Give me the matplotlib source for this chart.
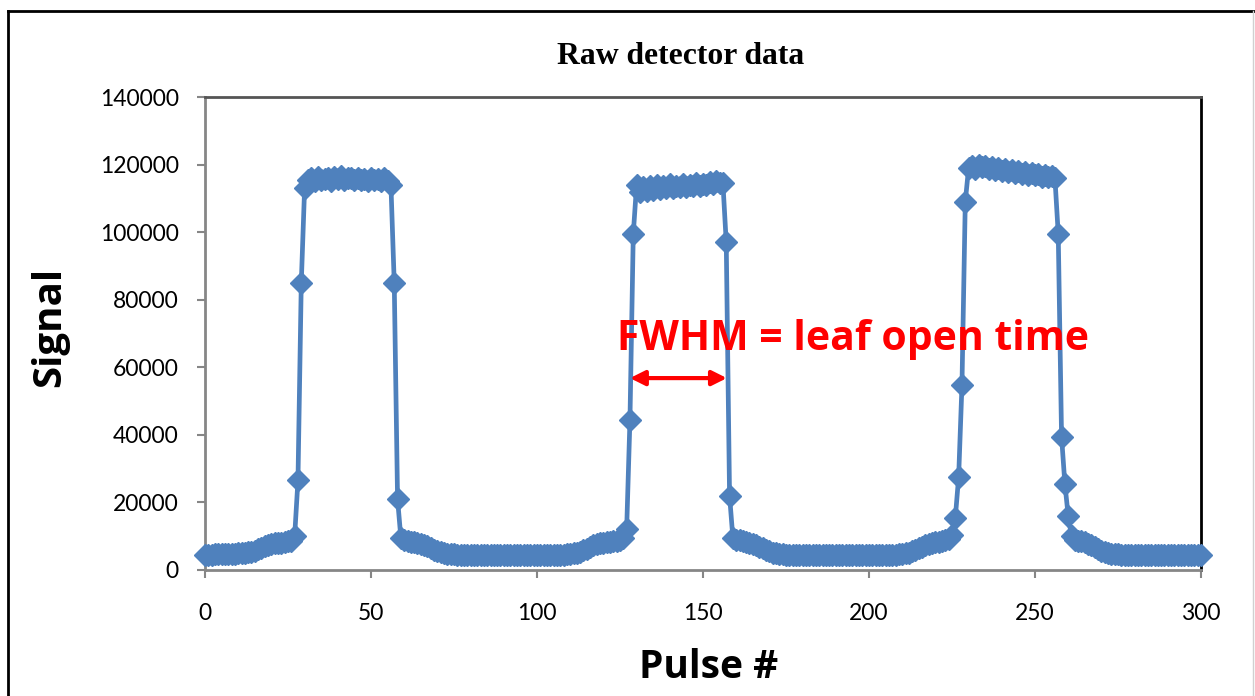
import numpy as np
import matplotlib
matplotlib.use("Agg")
import matplotlib.pyplot as plt
from matplotlib.lines import Line2D

# signal, one value per pulse (0..300)
base_1 = [4500, 4500, 4500, 4600, 4600, 4600, 4700, 4700, 4800, 4800,
          4900, 5000, 5100, 5200, 5400, 5700, 6100, 6600, 7100, 7500,
          7700, 7900, 8000, 8100, 8300, 8500, 8700]
peak_1 = [10000, 26500, 85000, 113000,
          115500, 116000, 115000, 116200, 115300, 115800, 116000, 115200,
          116300, 115600, 116500, 115400, 115900, 116100, 115300, 116000,
          115500, 115800, 115100, 116000, 115400, 115700, 115200, 115900,
          115000,
          114000, 85000, 21000, 9500]
base_2 = [9000, 8700, 8400, 8200, 8000, 7700, 7400, 7000, 6500, 6000,
          5600, 5200, 5000, 4800, 4700, 4600,
          4500, 4500, 4500, 4500, 4500, 4500, 4500, 4500, 4500, 4500,
          4500, 4500, 4500, 4500, 4500, 4500, 4500, 4500, 4500, 4500,
          4500, 4500, 4500, 4500, 4500, 4500, 4500, 4500, 4500, 4500,
          4500, 4500,
          4500, 4600, 4700, 4900, 5100, 5400, 5800, 6300, 6800, 7300,
          7700, 7900, 8000, 8200, 8300, 8500, 8700, 9000, 9500]
peak_2 = [12000, 44500, 99500, 114000,
          112000, 113500, 112300, 113800, 112600, 114000, 112800, 113600,
          113000, 114200, 113200, 113800, 113400, 114300, 113500, 114000,
          113600, 114500, 113800, 114200, 114000, 114800, 114300, 115000,
          114600,
          114500, 97000, 22000, 9500]
base_3 = [9000, 8800, 8500, 8300, 8000, 7700, 7300, 6900, 6400, 5900,
          5500, 5100, 4900, 4700, 4600, 4500,
          4500, 4500, 4500, 4500, 4500, 4500, 4500, 4500, 4500, 4500,
          4500, 4500, 4500, 4500, 4500, 4500, 4500, 4500, 4500, 4500,
          4500, 4500, 4500, 4500, 4500, 4500, 4500, 4500, 4500, 4500,
          4500, 4500,
          4500, 4600, 4700, 4900, 5100, 5500, 5900, 6400, 6900, 7400,
          7800, 8000, 8200, 8400, 8600, 8900, 9300]
peak_3 = [10500, 15500, 27500, 54700, 109000, 119000,
          119500, 118800, 120000, 119200, 119600, 118700, 119300, 118500,
          119000, 118200, 118800, 117900, 118400, 117600, 118200, 117300,
          117800, 117000, 117600, 116800, 117300, 116400, 117000, 116200,
          116600,
          116000, 99500, 39500, 25500, 16000, 10000]
base_4 = [9000, 8700, 8500, 8200, 7800, 7300, 6800, 6200, 5700, 5300,
          5000, 4800, 4700, 4600, 4500,
          4500, 4500, 4500, 4500, 4500, 4500, 4500, 4500, 4500, 4500,
          4500, 4500, 4500, 4500, 4500, 4500, 4500, 4500, 4500, 4500,
          4500, 4500, 4500, 4500]

signal = np.array(base_1 + peak_1 + base_2 + peak_2 + base_3 + peak_3 + base_4)
pulse = np.arange(len(signal))

x_ticks = [0, 50, 100, 150, 200, 250, 300]
y_ticks = [0, 20000, 40000, 60000, 80000, 100000, 120000, 140000]

# FWHM arrow ends (pulse) and height
fwhm_start, fwhm_end, fwhm_level = 128, 157.2, 56800

W, H = 1255, 696
fig = plt.figure(figsize=(W / 100, H / 100), dpi=100)
ax = fig.add_axes([205 / W, 1 - 570 / H, (1201 - 205) / W, (570 - 97) / H])

ax.plot(pulse, signal, color='#4F81BD', lw=3.4, marker='D', ms=11,
        mec='#4F81BD', mfc='#4F81BD', mew=1, zorder=3, clip_on=False)

ax.set_xlim(0, 300)
ax.set_ylim(0, 140000)
ax.set_xticks(x_ticks)
ax.set_yticks(y_ticks)
ax.set_xticklabels([str(v) for v in x_ticks], fontsize=16.5, family='Lato')
ax.set_yticklabels([str(v) for v in y_ticks], fontsize=16.5, family='Lato')
ax.tick_params(axis='both', direction='out', length=6, width=1.5,
               color='#868686')
ax.tick_params(axis='y', pad=13)
ax.tick_params(axis='x', pad=18)

for side in ['left', 'bottom']:
    ax.spines[side].set_color('#868686')
    ax.spines[side].set_linewidth(2)
ax.spines['top'].set_color('#555555')
ax.spines['top'].set_linewidth(2)
ax.spines['right'].set_color('black')
ax.spines['right'].set_linewidth(2)

fig.text(681 / W, 1 - 57 / H, 'Raw detector data', ha='center',
         va='center', fontsize=22.8, fontweight='bold',
         family='Liberation Serif')
fig.text(50 / W, 1 - 327 / H, 'Signal', ha='center', va='center',
         rotation=90, fontsize=29, fontweight='bold', family='Open Sans')
fig.text(709 / W, 1 - 668 / H, 'Pulse #', ha='center', va='center',
         fontsize=28, fontweight='bold', family='Open Sans')

ax.text(124, 65100, 'FWHM = leaf open time', color='red', ha='left',
        va='baseline', fontsize=29.4, fontweight='bold', family='Open Sans')
ax.annotate('', xy=(fwhm_end, fwhm_level), xytext=(fwhm_start, fwhm_level),
            arrowprops=dict(arrowstyle='<|-|>', color='red', lw=3,
                            mutation_scale=22, shrinkA=0, shrinkB=0))

# chart area border (left / top black, right light grey)
fig.add_artist(Line2D([8 / W, 8 / W], [0, 1 - 11 / H], color='black', lw=2))
fig.add_artist(Line2D([8 / W, 1], [1 - 11 / H, 1 - 11 / H], color='black', lw=2))
fig.add_artist(Line2D([1253 / W, 1253 / W], [0, 1 - 11 / H],
                      color='#d0d0d0', lw=1))

fig.savefig('out.png', dpi=100)
